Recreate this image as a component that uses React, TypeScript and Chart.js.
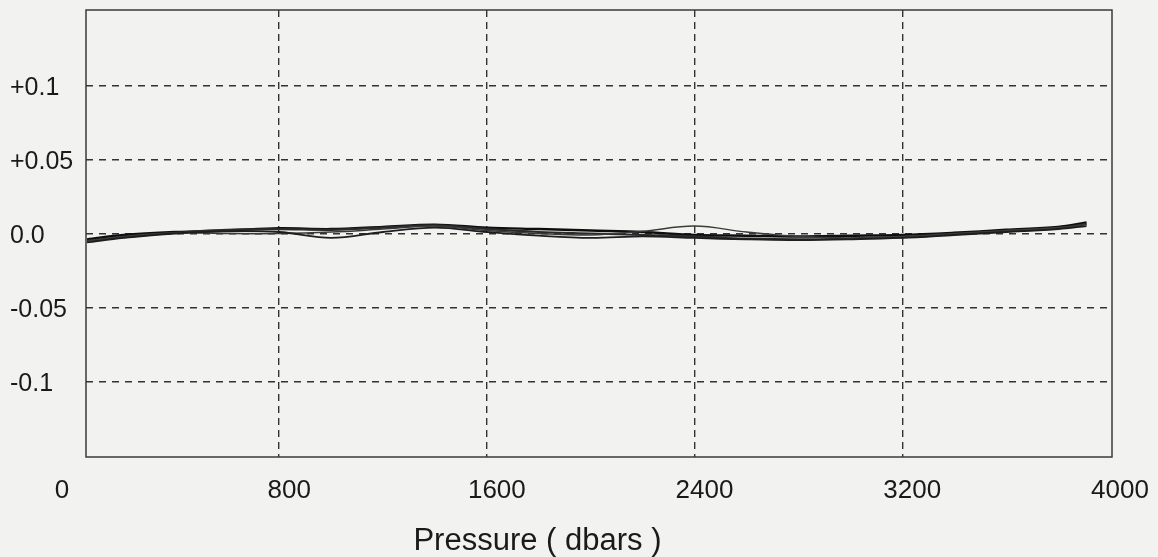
import React, { useEffect, useRef } from "react";
import { Chart, registerables } from "chart.js";

Chart.register(...registerables);

const pressures = [60, 200, 400, 600, 800, 1000, 1200, 1400, 1600, 1800, 2000, 2200, 2400, 2600, 2800, 3000, 3200, 3400, 3600, 3800, 3910];

const seriesA = [-0.004, -0.001, 0.001, 0.002, 0.0035, 0.003, 0.0045, 0.006, 0.004, 0.003, 0.002, 0.001, -0.001, -0.0015, -0.002, -0.0015, -0.001, 0.0005, 0.0025, 0.0045, 0.0075];
const seriesB = [-0.006, -0.003, 0.0, 0.0015, 0.001, -0.003, 0.001, 0.004, 0.001, -0.0015, -0.003, -0.002, -0.003, -0.004, -0.0045, -0.004, -0.003, -0.001, 0.001, 0.003, 0.005];
const seriesC = [-0.005, -0.002, 0.0005, 0.0, 0.0, 0.001, 0.003, 0.005, 0.002, 0.0, -0.001, 0.0015, 0.005, 0.001, -0.002, -0.003, -0.002, 0.0, 0.002, 0.004, 0.006];
const seriesD = [-0.005, -0.0025, 0.0005, 0.0025, 0.003, 0.0025, 0.004, 0.0055, 0.003, 0.001, 0.0, -0.001, -0.002, -0.0035, -0.004, -0.0035, -0.0025, -0.0005, 0.0015, 0.0035, 0.0065];

const xGridValues = [800, 1600, 2400, 3200];
const xTickValues = [0, 800, 1600, 2400, 3200, 4000];
const xTickLabels = ["0", "800", "1600", "2400", "3200", "4000"];
const yTickValues = [0.1, 0.05, 0, -0.05, -0.1];
const yTickLabels = ["+0.1", "+0.05", "0.0", "-0.05", "-0.1"];
const xTitle = "Pressure ( dbars )";

const FONT = "'Liberation Sans', Arial, sans-serif";

const framePlugin = {
  id: "framePlugin",
  beforeDraw(chart: any) {
    const ctx = chart.ctx;
    ctx.save();
    ctx.fillStyle = "#f2f2f1";
    ctx.fillRect(0, 0, chart.width, chart.height);
    ctx.restore();
  },
  afterDraw(chart: any) {
    const ctx = chart.ctx;
    const a = chart.chartArea;
    const xs = chart.scales.x;
    const ys = chart.scales.y;
    ctx.save();
    ctx.strokeStyle = "#3a3a3a";
    ctx.lineWidth = 1.5;
    ctx.setLineDash([]);
    ctx.strokeRect(a.left, a.top, a.right - a.left, a.bottom - a.top);

    ctx.fillStyle = "#1a1a1a";
    ctx.font = `25px ${FONT}`;
    ctx.textAlign = "left";
    ctx.textBaseline = "middle";
    yTickValues.forEach((v, i) => {
      ctx.fillText(yTickLabels[i], 10, ys.getPixelForValue(v) + 3);
    });

    ctx.font = `26px ${FONT}`;
    ctx.textAlign = "center";
    xTickValues.forEach((v, i) => {
      let px = xs.getPixelForValue(v) + 10;
      if (px < a.left) px = a.left - 24;
      ctx.fillText(xTickLabels[i], px, a.bottom + 34);
    });

    ctx.font = `31px ${FONT}`;
    ctx.fillText(xTitle, a.left + (a.right - a.left) * 0.44, a.bottom + 84);
    ctx.restore();
  },
};

export default function App() {
  const ref = useRef<HTMLCanvasElement>(null);
  useEffect(() => {
    document.body.style.margin = "0";
    document.body.style.background = "#f2f2f1";
    const mk = (data: number[], color: string, w: number) => ({
      data: pressures.map((p, i) => ({ x: p, y: data[i] })),
      borderColor: color,
      borderWidth: w,
      pointRadius: 0,
      tension: 0.35,
      fill: false,
    });
    const chart = new Chart(ref.current!, {
      type: "line",
      data: {
        datasets: [
          mk(seriesB, "#1e1e1e", 1.8),
          mk(seriesC, "#3a3a3a", 1.5),
          mk(seriesD, "#2a2a2a", 2.2),
          mk(seriesA, "#0e0e0e", 2.4),
        ],
      },
      options: {
        responsive: false,
        animation: false,
        events: [],
        layout: { padding: { top: 10, right: 46, bottom: 0, left: 0 } },
        plugins: { legend: { display: false }, tooltip: { enabled: false } },
        scales: {
          x: {
            type: "linear",
            min: 56,
            max: 4008,
            afterBuildTicks: (s: any) => {
              s.ticks = xGridValues.map((v) => ({ value: v }));
            },
            afterFit: (s: any) => {
              s.height = 100;
            },
            ticks: { display: false },
            grid: { color: "#333333", lineWidth: 1.4, drawTicks: false },
            border: { display: false, dash: [7, 5] },
          },
          y: {
            type: "linear",
            min: -0.151,
            max: 0.151,
            afterBuildTicks: (s: any) => {
              s.ticks = yTickValues.map((v) => ({ value: v }));
            },
            afterFit: (s: any) => {
              s.width = 86;
            },
            ticks: { display: false },
            grid: { color: "#333333", lineWidth: 1.4, drawTicks: false },
            border: { display: false, dash: [7, 6] },
          },
        },
      },
      plugins: [framePlugin],
    });
    return () => chart.destroy();
  }, []);
  return <canvas ref={ref} width={1158} height={557} style={{ display: "block" }} />;
}
